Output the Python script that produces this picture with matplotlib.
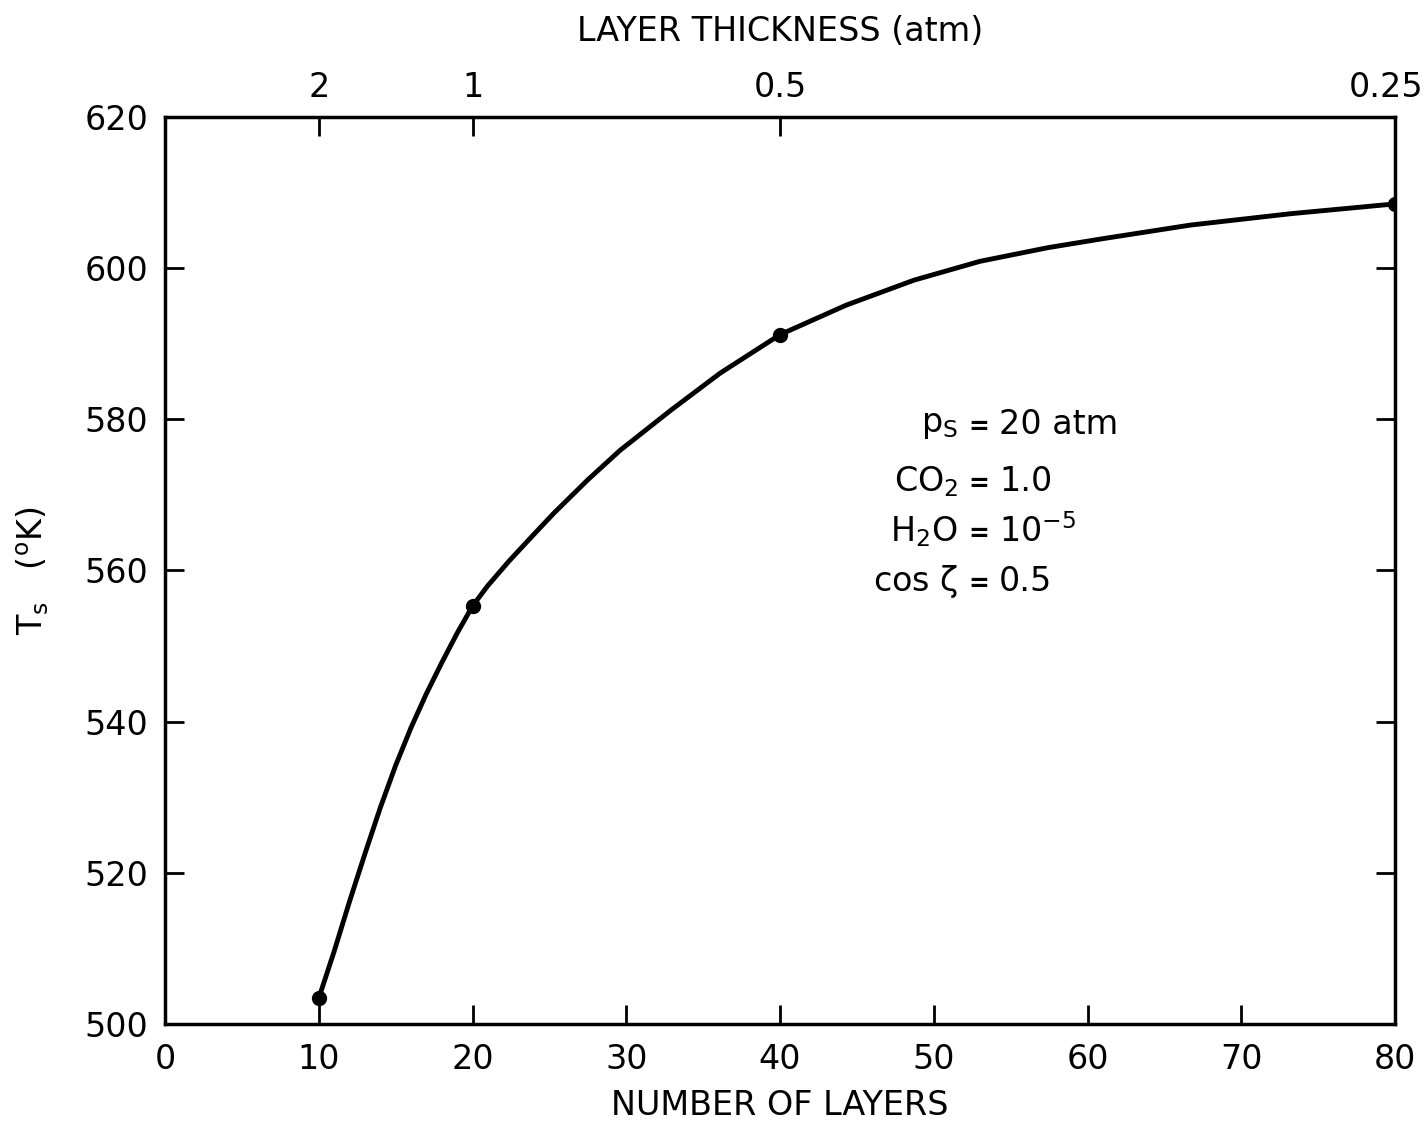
import matplotlib.pyplot as plt
from matplotlib.transforms import ScaledTranslation

# computed surface temperature vs number of model layers
layers = [10, 20, 40, 80]
surface_temp = [503.4, 555.3, 591.2, 608.5]

# smooth curve drawn through the computed points
curve_layers = [10, 11, 12, 13, 14, 15, 16, 17, 18, 19, 20, 21, 22.4, 24, 25.3,
                27.5, 29.6, 32.9, 36.1, 40, 44.3, 48.7, 53, 57.4, 61, 66.7, 73.2, 80]
curve_temp = [503.4, 509.6, 516.2, 522.5, 528.6, 534.2, 539.2, 543.7, 547.8,
              551.7, 555.3, 558.0, 561.3, 564.8, 567.6, 572.0, 575.9, 581.2,
              586.1, 591.2, 595.1, 598.4, 600.9, 602.7, 603.9, 605.7, 607.2, 608.5]

# top axis: layer thickness for a 20 atm atmosphere
thick_ticks = [10, 20, 40, 80]
thick_labels = ['2', '1', '0.5', '0.25']

x_ticks = list(range(0, 81, 10))
y_ticks = list(range(500, 621, 20))

plt.rcParams['font.family'] = ['DejaVu Sans']
plt.rcParams['mathtext.fontset'] = 'dejavusans'
plt.rcParams['mathtext.default'] = 'regular'

FS = 24

fig = plt.figure(figsize=(14.26, 11.29), dpi=100)
ax = fig.add_axes([0.1157, 0.093, 0.8626, 0.8034])

ax.plot(curve_layers, curve_temp, color='black', lw=3.5,
        solid_joinstyle='round', solid_capstyle='round')
ax.plot(layers, surface_temp, 'o', color='black', ms=10)

ax.set_xlim(0, 80)
ax.set_ylim(500, 620)
ax.set_xticks(x_ticks)
ax.set_yticks(y_ticks)
ax.tick_params(direction='in', length=14, width=2, labelsize=FS, pad=12,
               right=True)
ax.tick_params(axis='x', pad=14)
for s in ax.spines.values():
    s.set_linewidth(2.5)

ax.set_xlabel('NUMBER OF LAYERS', fontsize=FS, labelpad=9)
ax.set_ylabel(r'$T_s$   ($^o$K)', fontsize=FS, labelpad=24)

top = ax.twiny()
top.set_xlim(ax.get_xlim())
top.set_xticks(thick_ticks)
top.set_xticklabels(thick_labels)
top.tick_params(direction='in', length=14, width=2, labelsize=FS, pad=9)
top.set_xlabel('LAYER THICKNESS (atm)', fontsize=FS, labelpad=22)

# keep the last thickness label inside the figure edge
last = top.get_xticklabels()[-1]
last.set_transform(last.get_transform()
                   + ScaledTranslation(-9 / 100, 0, fig.dpi_scale_trans))


def to_axes(px, py):
    return (px - 165) / 1230, (1024 - py) / 907


params = [
    (r'$p_S$', '20 atm', 425),
    (r'$CO_2$', '1.0', 482),
    (r'$H_2O$', '$10^{-5}$', 532),
    (r'cos $\zeta$', '0.5', 582),
]
for name, value, py in params:
    ax.text(*to_axes(958, py), name, transform=ax.transAxes, fontsize=FS,
            ha='right', va='center')
    ax.text(*to_axes(979, py + 2), '=', transform=ax.transAxes, fontsize=18,
            ha='center', va='center', fontweight='bold')
    ax.text(*to_axes(999, py), value, transform=ax.transAxes, fontsize=FS,
            ha='left', va='center')

fig.savefig('out.png', dpi=100)
